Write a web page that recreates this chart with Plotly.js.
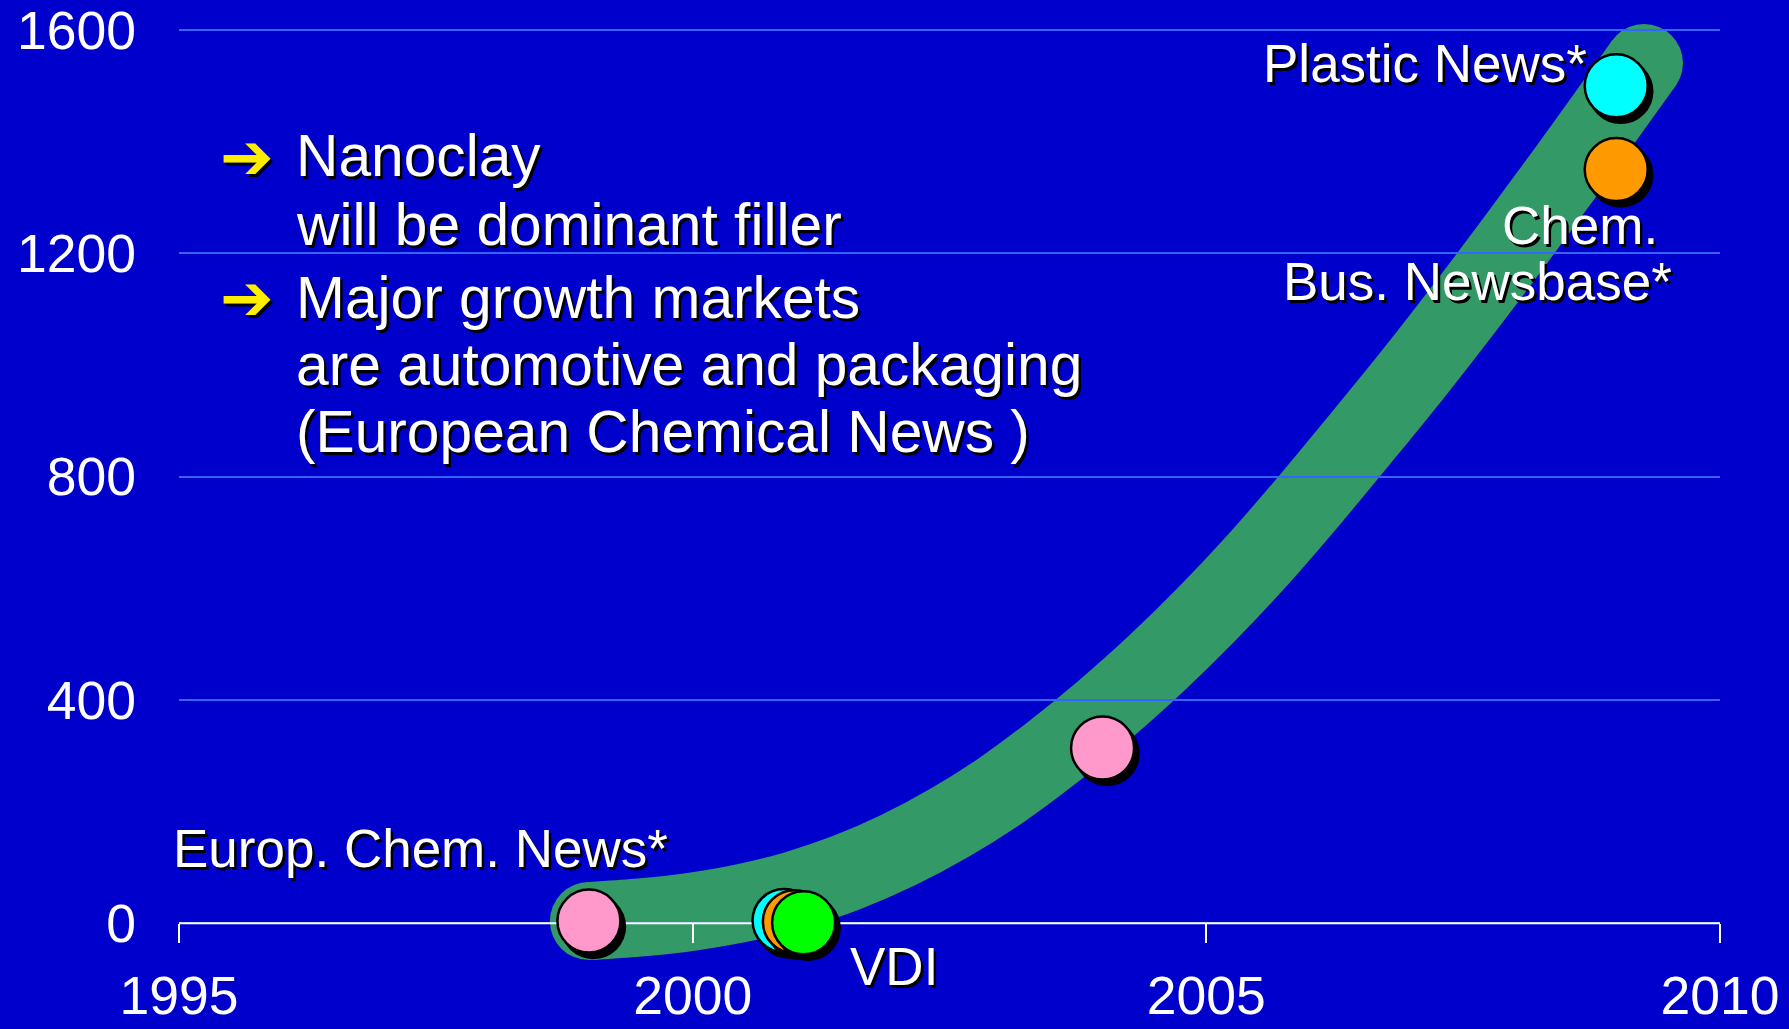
<!DOCTYPE html>
<html>
<head>
<meta charset="utf-8">
<script src="https://cdn.plot.ly/plotly-3.0.1.min.js"></script>
<style>
  html, body { margin: 0; padding: 0; background: #0000CC; }
  #chart { width: 1789px; height: 1029px; }
</style>
</head>
<body>
<div id="chart"></div>
<script>
// ---------------- data ----------------
const xTicks = [1995, 2000, 2005, 2010];
const xTickText = ['1995', '2000', '2005', '2010'];
const yTicks = [0, 400, 800, 1200, 1600];
const yTickText = ['0', '400', '800', '1200', '1600'];

// trend band (centre line of the broad green curve)
const trendX = [1998.99, 1999.5, 2000, 2000.5, 2001, 2001.5, 2002, 2002.5, 2003, 2003.5, 2004, 2004.5, 2005, 2005.5, 2006, 2006.5, 2007, 2007.5, 2008, 2008.5, 2009, 2009.26];
const trendY = [4, 10.5, 21, 37, 60, 91, 131, 180, 238, 306, 381, 463, 553, 651, 757, 868, 981, 1099, 1221, 1346, 1474, 1541];

// sources
const euroX = [1998.99, 2003.99];
const euroY = [4, 314];
const plasticX = [2000.89, 2008.99];
const plasticY = [5, 1500];
const chemX = [2000.99, 2008.99];
const chemY = [3, 1350];
const vdiX = [2001.08];
const vdiY = [1];

// ---------------- layout geometry ----------------
const W = 1789, H = 1029;
const ML = 179, MR = 69;
const plotW = W - ML - MR;
const xRange = [1995, 2010];
const yRange = [-189.3, 1653.8];
const pxPerX = plotW / (xRange[1] - xRange[0]);
const pxPerY = H / (yRange[1] - yRange[0]);
const axisPos = (0 - yRange[0]) / (yRange[1] - yRange[0]);

const FONT = 'Liberation Sans, Arial, Helvetica, sans-serif';
const BG = '#0000CC';
const GRID = '#3366FF';
const BAND = '#339966';
const SHADOW = '2.5px 2.5px 0px #000000';

// helpers: pixel -> paper
const px = x => (x - ML) / plotW;
const py = y => (H - y) / H;

// Catmull-Rom spline through trend points -> SVG path in data coords
function bandPath(xs, ys) {
  const n = xs.length;
  const P = i => { const k = Math.max(0, Math.min(n - 1, i)); return [xs[k], ys[k]]; };
  let d = 'M' + xs[0] + ',' + ys[0];
  for (let i = 0; i < n - 1; i++) {
    const p0 = P(i - 1), p1 = P(i), p2 = P(i + 1), p3 = P(i + 2);
    const c1 = [p1[0] + (p2[0] - p0[0]) / 6, p1[1] + (p2[1] - p0[1]) / 6];
    const c2 = [p2[0] - (p3[0] - p1[0]) / 6, p2[1] - (p3[1] - p1[1]) / 6];
    d += ' C' + c1[0] + ',' + c1[1] + ' ' + c2[0] + ',' + c2[1] + ' ' + p2[0] + ',' + p2[1];
  }
  return d;
}

const BAND_W = 78;
const MSIZE = 63, MLINE = 2.5;
const SH_DX = 4.5 / pxPerX, SH_DY = -5.5 / pxPerY;

function shadowTrace(xs, ys) {
  return {
    x: xs.map(v => v + SH_DX), y: ys.map(v => v + SH_DY),
    type: 'scatter', mode: 'markers', cliponaxis: false, hoverinfo: 'skip',
    marker: { size: MSIZE + MLINE, color: '#000000', line: { width: 0 } }
  };
}
function pointTrace(xs, ys, color, name) {
  return {
    x: xs, y: ys, name: name,
    type: 'scatter', mode: 'markers', cliponaxis: false,
    marker: { size: MSIZE, color: color, line: { width: MLINE, color: '#000000' } }
  };
}

const traces = [
  // x-axis base line (drawn over the band, under the points)
  { x: [xTicks[0], xTicks[xTicks.length - 1]], y: [yTicks[0], yTicks[0]],
    type: 'scatter', mode: 'lines', hoverinfo: 'skip',
    line: { color: '#FFFFFF', width: 2 } },
  shadowTrace(euroX, euroY), pointTrace(euroX, euroY, '#FF99CC', 'Europ. Chem. News'),
  shadowTrace(plasticX, plasticY), pointTrace(plasticX, plasticY, '#00FFFF', 'Plastic News'),
  shadowTrace(chemX, chemY), pointTrace(chemX, chemY, '#FF9900', 'Chem. Bus. Newsbase'),
  shadowTrace(vdiX, vdiY), pointTrace(vdiX, vdiY, '#00FF00', 'VDI')
];

const n = trendX.length;
const shapes = [
  { type: 'path', xref: 'x', yref: 'y', layer: 'below',
    path: bandPath(trendX, trendY),
    line: { color: BAND, width: BAND_W }, fillcolor: 'rgba(0,0,0,0)' },
  { type: 'circle', xref: 'x', yref: 'y', layer: 'below',
    xsizemode: 'pixel', ysizemode: 'pixel', xanchor: trendX[0], yanchor: trendY[0],
    x0: -BAND_W / 2, x1: BAND_W / 2, y0: -BAND_W / 2, y1: BAND_W / 2,
    fillcolor: BAND, line: { width: 0 } },
  { type: 'circle', xref: 'x', yref: 'y', layer: 'below',
    xsizemode: 'pixel', ysizemode: 'pixel', xanchor: trendX[n - 1], yanchor: trendY[n - 1],
    x0: -BAND_W / 2, x1: BAND_W / 2, y0: -BAND_W / 2, y1: BAND_W / 2,
    fillcolor: BAND, line: { width: 0 } }
];

function txt(text, x, y, xanchor, size, color, family, weight) {
  return {
    text: text, xref: 'paper', yref: 'paper', x: px(x), y: py(y),
    xanchor: xanchor, yanchor: 'middle', showarrow: false, align: xanchor,
    font: { family: family || FONT, size: size, color: color || '#FFFFFF', shadow: SHADOW, weight: weight || 'normal' }
  };
}

const annotations = [
  // bullet block
  txt('➔', 246.5, 157, 'center', 64, '#FFEE00', 'DejaVu Sans, sans-serif', 'bold'),
  txt('➔', 247, 298, 'center', 64, '#FFEE00', 'DejaVu Sans, sans-serif', 'bold'),
  txt('Nanoclay', 294, 155.5, 'left', 58.7),
  txt('will be dominant filler', 294, 224.5, 'left', 58.7),
  txt('Major growth markets', 294, 297.5, 'left', 58.7),
  txt('are automotive and packaging', 294, 364.5, 'left', 58.7),
  txt('(European Chemical News )', 294, 431, 'left', 58.7),
  // source labels
  txt('Europ. Chem. News*', 171, 848, 'left', 53),
  txt('Plastic News*', 1589, 64, 'right', 53),
  txt('Chem.', 1660, 225, 'right', 53),
  txt('Bus. Newsbase*', 1674, 281, 'right', 53),
  txt('VDI', 848, 966, 'left', 53)
];

const layout = {
  width: W, height: H,
  paper_bgcolor: BG, plot_bgcolor: BG,
  margin: { l: ML, r: MR, t: 0, b: 0, pad: 0 },
  showlegend: false, hovermode: false,
  xaxis: {
    range: xRange, anchor: 'free', position: axisPos,
    tickmode: 'array', tickvals: xTicks, ticktext: xTickText,
    showgrid: false, zeroline: false, showline: false,
    ticks: 'outside', ticklen: 19, tickwidth: 2, tickcolor: '#FFFFFF',
    ticklabelstandoff: 6, automargin: false,
    tickfont: { family: FONT, size: 53.5, color: '#FFFFFF' }
  },
  yaxis: {
    range: yRange, tickmode: 'array', tickvals: yTicks, ticktext: yTickText,
    showgrid: true, gridcolor: GRID, gridwidth: 2,
    zeroline: false, showline: false, ticks: '',
    ticklabelstandoff: 42, automargin: false,
    tickfont: { family: FONT, size: 53.5, color: '#FFFFFF' }
  },
  shapes: shapes,
  annotations: annotations
};

Plotly.newPlot('chart', traces, layout, { staticPlot: true, displayModeBar: false });
</script>
</body>
</html>
